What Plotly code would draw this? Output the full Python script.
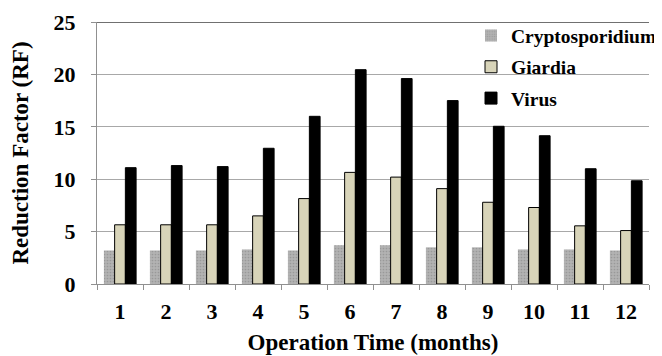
import plotly.graph_objects as go

months = ["1", "2", "3", "4", "5", "6", "7", "8", "9", "10", "11", "12"]
crypto = [3.2, 3.2, 3.2, 3.3, 3.2, 3.7, 3.7, 3.5, 3.5, 3.3, 3.3, 3.2]
giardia = [5.65, 5.65, 5.65, 6.5, 8.15, 10.65, 10.2, 9.1, 7.8, 7.3, 5.55, 5.1]
virus = [11.1, 11.3, 11.2, 12.95, 16.0, 20.45, 19.6, 17.5, 15.05, 14.15, 11.0, 9.85]
y_ticks = [0, 5, 10, 15, 20, 25]

FONT = "Liberation Serif"

fig = go.Figure()
fig.add_trace(go.Bar(
    x=months, y=crypto, name="<b>Cryptosporidium</b>", legendgroup="a",
    marker=dict(color="#a6a6a6", line=dict(width=0),
                pattern=dict(shape=".", fgcolor="#808080", bgcolor="#b2b2b2",
                             size=3, solidity=0.25)),
))
fig.add_trace(go.Bar(
    x=months, y=giardia, name="<b>Giardia</b>", legendgroup="b",
    marker=dict(color="#d8d4b9", line=dict(color="#000000", width=1)),
))
fig.add_trace(go.Bar(
    x=months, y=virus, name="<b>Virus</b>", legendgroup="c",
    marker=dict(color="#000000", line=dict(color="#000000", width=1)),
))

fig.add_shape(type="line", xref="paper", yref="y", x0=0, x1=1, y0=25, y1=25,
              line=dict(color="#404040", width=1.5))

fig.update_layout(
    width=654, height=348,
    margin=dict(l=89, r=0, t=14, b=72),
    paper_bgcolor="white", plot_bgcolor="white",
    barmode="group", bargap=0.3, bargroupgap=0,
    font=dict(family=FONT, color="#000000"),
    legend=dict(x=0.678, y=1.022, xanchor="left", yanchor="top",
                bgcolor="rgba(0,0,0,0)", font=dict(family=FONT, size=19.5),
                tracegroupgap=3, traceorder="grouped", itemwidth=30),
    showlegend=True,
)
fig.update_xaxes(
    type="category", tickson="boundaries", ticks="outside", ticklen=5,
    tickcolor="#909090", showline=True, linecolor="#909090", linewidth=1,
    tickfont=dict(family=FONT, size=22, weight="bold"), ticklabelstandoff=8,
    title=dict(text="<b>Operation Time (months)</b>", font=dict(family=FONT, size=23), standoff=10),
    showgrid=False,
)
fig.update_yaxes(
    range=[0, 25], tickvals=y_ticks,
    ticktext=[f"{v}\u00a0\u00a0" for v in y_ticks],
    ticks="outside", ticklen=5, tickcolor="#909090",
    showline=True, linecolor="#909090", linewidth=1,
    gridcolor="#a8a8a8", gridwidth=1, zeroline=False,
    tickfont=dict(family=FONT, size=22, weight="bold"),
    title=dict(text="<b>Reduction Factor (RF)</b>", font=dict(family=FONT, size=23), standoff=22),
)

fig.write_html("out.html")
